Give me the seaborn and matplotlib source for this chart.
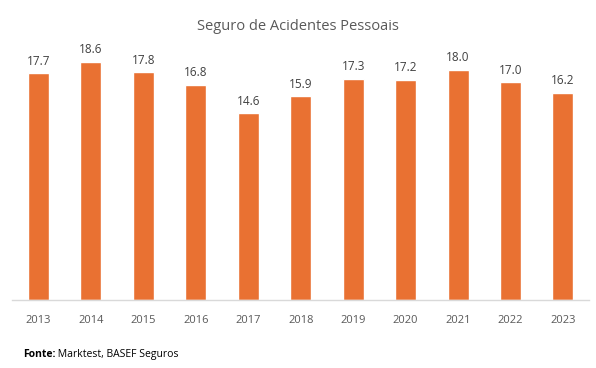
import matplotlib
matplotlib.use("Agg")
import matplotlib.pyplot as plt
import seaborn as sns
import pandas as pd

years = ["2013", "2014", "2015", "2016", "2017", "2018", "2019", "2020", "2021", "2022", "2023"]
values = [17.7, 18.6, 17.8, 16.8, 14.6, 15.9, 17.3, 17.2, 18.0, 17.0, 16.2]
title = "Seguro de Acidentes Pessoais"
source_bold = "Fonte:"
source_text = " Marktest, BASEF Seguros"

sns.set_theme(style="white")
plt.rcParams['font.family'] = ['Open Sans', 'DejaVu Sans']

df = pd.DataFrame({"year": years, "value": values})

fig = plt.figure(figsize=(5.96, 3.68), dpi=100)
ax = fig.add_axes([0.0206, 0.185, 0.968, 0.685])
sns.barplot(data=df, x="year", y="value", color="#E97132", width=0.4,
            saturation=1, ax=ax)
ax.set_ylim(0, 19.7)
ax.set_xlim(-0.5, len(years) - 0.5)
for i, v in enumerate(values):
    ax.annotate(f"{v:.1f}", (i, v), xytext=(0, 4), textcoords="offset points",
                ha="center", va="bottom", fontsize=8.5, color="#404040")
ax.set_xlabel("")
ax.set_ylabel("")
ax.set_yticks([])
for s in ["top", "right", "left"]:
    ax.spines[s].set_visible(False)
ax.spines["bottom"].set_color("#D9D9D9")
ax.spines["bottom"].set_linewidth(1)
ax.tick_params(axis="x", length=0, labelsize=8, colors="#595959", pad=10.5)

fig.text(0.5, 0.928, title, ha="center", va="center", fontsize=10.5, color="#595959")
t = fig.text(0.038, 0.038, source_bold, ha="left", va="center", fontsize=7.5,
             fontweight="bold", color="#000000")
fig.canvas.draw()
bb = t.get_window_extent()
x2 = bb.x1 / fig.bbox.width
fig.text(x2, 0.038, source_text, ha="left", va="center", fontsize=7.5, color="#000000")

fig.savefig("out.png", dpi=100)
